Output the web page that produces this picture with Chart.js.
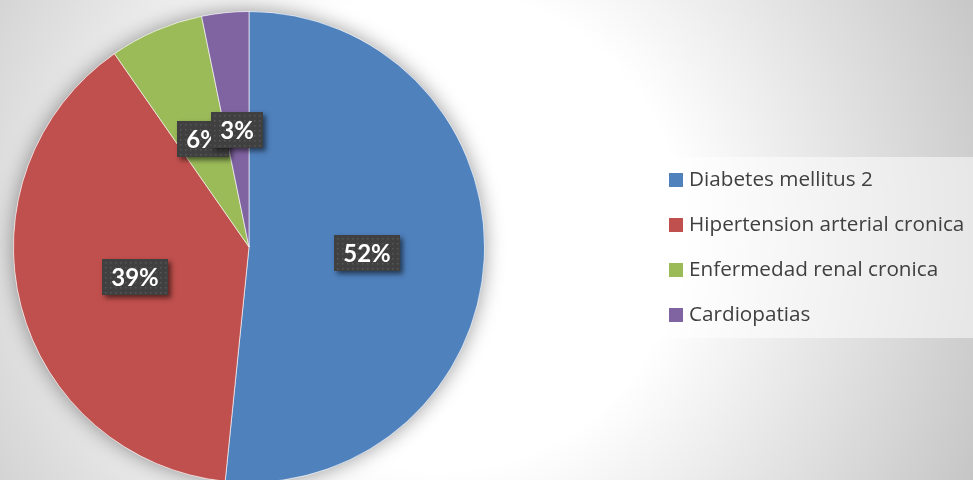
<!DOCTYPE html>
<html>
<head>
<meta charset="utf-8">
<script src="https://cdn.jsdelivr.net/npm/chart.js@4.4.0/dist/chart.umd.min.js"></script>
<style>
  html, body { margin: 0; padding: 0; overflow: hidden; }
  body {
    width: 973px;
    height: 480px;
    background: radial-gradient(ellipse 600px 600px at 440px 230px, #ffffff 40%, #c4c4c4 100%);
  }
  #wrap { position: relative; width: 973px; height: 494px; }
</style>
</head>
<body>
<div id="wrap"><canvas id="pie"></canvas></div>
<script>
// data (counts give 52 / 39 / 6 / 3 %)
var categories = ['Diabetes mellitus 2', 'Hipertension arterial cronica', 'Enfermedad renal cronica', 'Cardiopatias'];
var cases = [16, 12, 2, 1];

var sliceColors = ['#4F81BD', '#C0504D', '#9BBB59', '#8064A2'];

var total = cases.reduce(function (a, b) { return a + b; }, 0);
var shares = cases.map(function (v) { return Math.round(v / total * 100) + '%'; });

// soft glow under the whole pie
var pieShadow = {
  id: 'pieShadow',
  beforeDatasetsDraw: function (chart) {
    var arc = chart.getDatasetMeta(0).data[0];
    if (!arc) return;
    var ctx = chart.ctx;
    ctx.save();
    ctx.shadowColor = 'rgba(0,0,0,0.4)';
    ctx.shadowBlur = 20;
    ctx.fillStyle = '#ffffff';
    ctx.beginPath();
    ctx.arc(arc.x, arc.y, arc.outerRadius, 0, Math.PI * 2);
    ctx.fill();
    ctx.restore();
  }
};

// dark dotted boxes with the percentages
var labelBoxes = {
  id: 'labelBoxes',
  afterDatasetsDraw: function (chart) {
    var ctx = chart.ctx;
    var meta = chart.getDatasetMeta(0);
    ctx.save();
    ctx.font = 'bold 24px Lato';
    ctx.textAlign = 'center';
    ctx.textBaseline = 'middle';
    meta.data.forEach(function (arc, i) {
      var p = arc.tooltipPosition();
      var text = shares[i];
      var w = Math.round(ctx.measureText(text).width + 18);
      var h = 36;
      var x = Math.round(p.x - w / 2);
      var y = Math.round(p.y - h / 2);

      ctx.save();
      ctx.shadowColor = 'rgba(0,0,0,0.55)';
      ctx.shadowBlur = 5;
      ctx.shadowOffsetX = 3;
      ctx.shadowOffsetY = 3;
      ctx.fillStyle = '#404040';
      ctx.fillRect(x, y, w, h);
      ctx.restore();

      ctx.fillStyle = '#575757';
      for (var dy = 3; dy < h - 1; dy += 5) {
        for (var dx = 3; dx < w - 1; dx += 5) {
          ctx.fillRect(x + dx, y + dy, 1.5, 1.5);
        }
      }

      ctx.fillStyle = '#ffffff';
      ctx.fillText(text, x + w / 2, y + h / 2 + 1);
    });
    ctx.restore();
  }
};

// legend panel on the right
var sideLegend = {
  id: 'sideLegend',
  afterDraw: function (chart) {
    var ctx = chart.ctx;
    var bx = 656, by = 157, bw = 317, bh = 181;
    ctx.save();
    ctx.fillStyle = 'rgba(255,255,255,0.5)';
    ctx.fillRect(bx, by, bw, bh);

    ctx.font = '20.7px "Open Sans"';
    ctx.textAlign = 'left';
    ctx.textBaseline = 'middle';
    categories.forEach(function (name, i) {
      var cy = 180 + i * 45;
      ctx.fillStyle = sliceColors[i];
      ctx.fillRect(669, cy - 7, 14, 14);
      ctx.fillStyle = '#404040';
      ctx.fillText(name, 689, cy);
    });
    ctx.restore();
  }
};

var chart = new Chart(document.getElementById('pie').getContext('2d'), {
  type: 'pie',
  data: {
    labels: categories,
    datasets: [{
      data: cases,
      backgroundColor: sliceColors,
      borderColor: 'rgba(255,255,255,0.6)',
      borderWidth: 1
    }]
  },
  options: {
    responsive: true,
    maintainAspectRatio: false,
    animation: false,
    layout: { padding: { left: 13, right: 488, top: 11, bottom: 11 } },
    plugins: {
      legend: { display: false },
      tooltip: { enabled: false }
    }
  },
  plugins: [pieShadow, labelBoxes, sideLegend]
});
</script>
</body>
</html>
